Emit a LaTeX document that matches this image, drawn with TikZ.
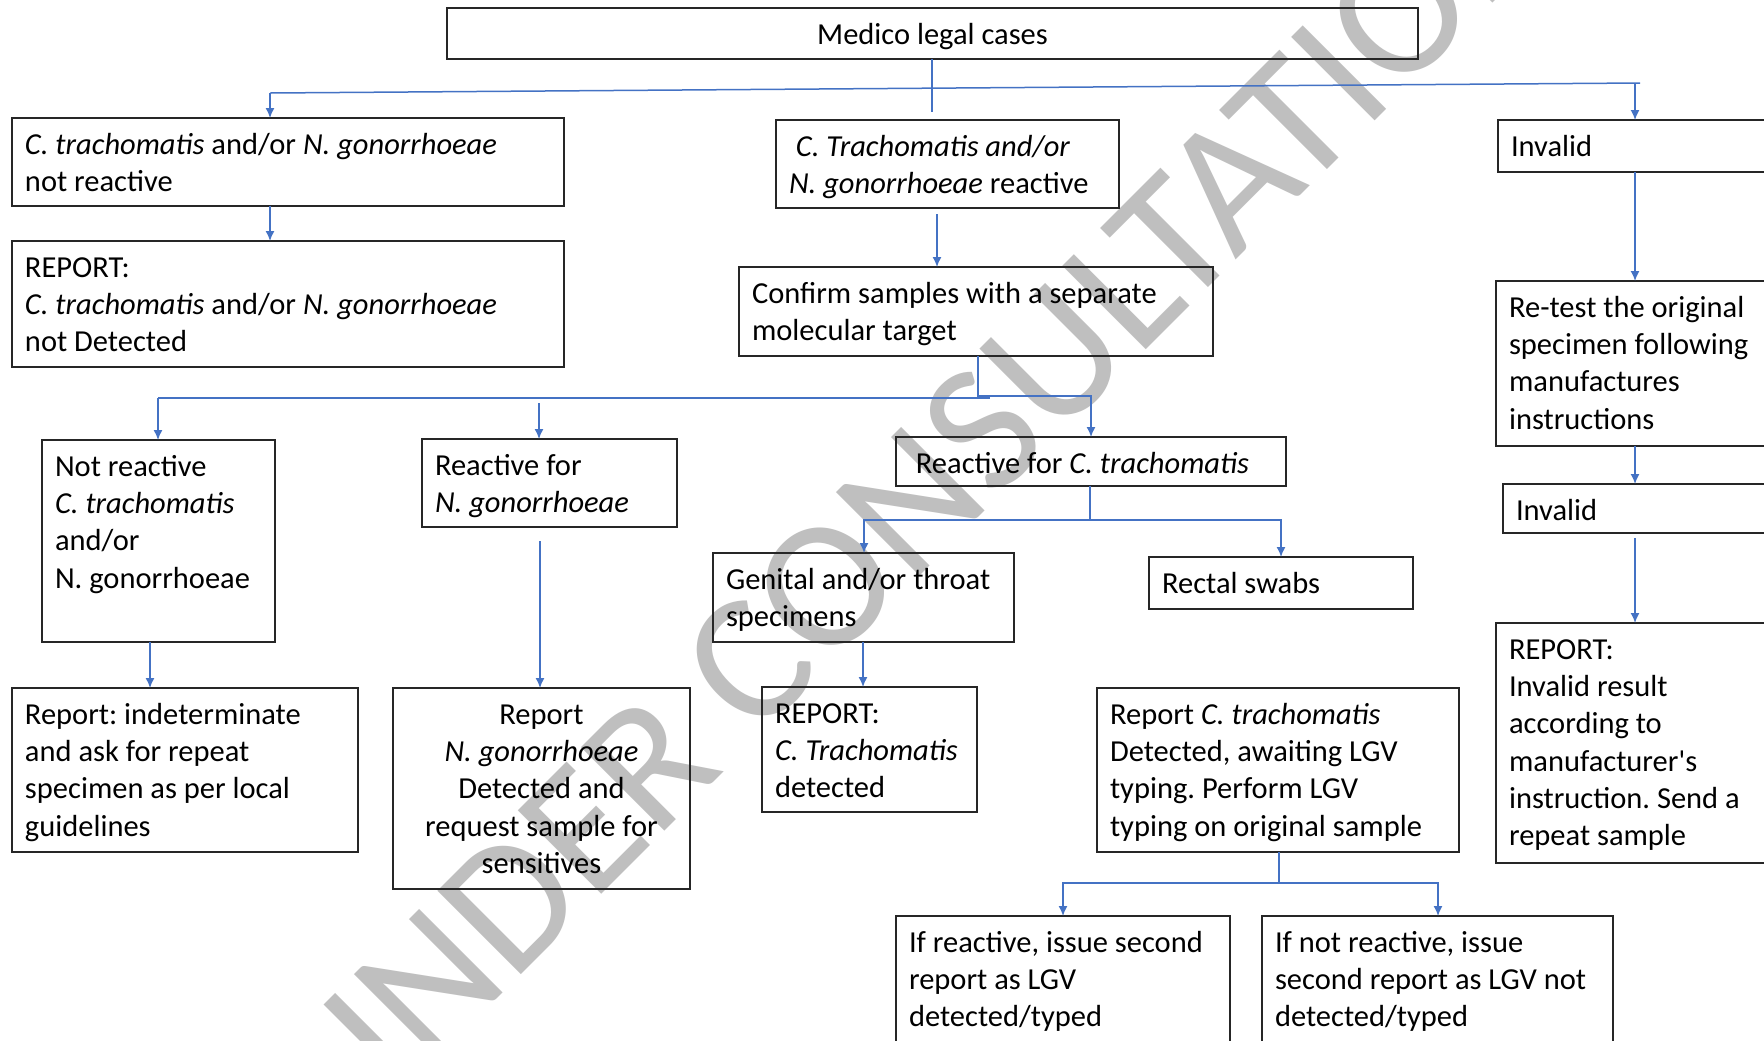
\documentclass[tikz,border=0pt]{standalone}
\usepackage{fontspec}
\setmainfont{Carlito}
\usetikzlibrary{arrows.meta}
\definecolor{connblue}{HTML}{4472C4}
\definecolor{wmgray}{HTML}{BFBFBF}
\frenchspacing
\newcommand{\bxt}[3]{\parbox[c][\dimexpr #2pt/2\relax][t]{\dimexpr #1pt/2-13pt\relax}{\raggedright\rule{0pt}{18.2pt}#3}}
\newcommand{\bxc}[3]{\parbox[c][\dimexpr #2pt/2\relax][t]{\dimexpr #1pt/2-13pt\relax}{\centering\rule{0pt}{18.2pt}#3}}
\begin{document}
\begin{tikzpicture}[x=0.5pt,y=-0.5pt,
  bx/.style={draw=black!85, line width=0.75pt, anchor=north west, inner xsep=6.5pt, inner ysep=0pt, outer sep=0pt,
             font=\fontsize{15.25pt}{18.6pt}\selectfont},
  cline/.style={draw=connblue, line width=0.75pt},
  arr/.style={cline, -{Latex[length=5pt,width=4.5pt]}},
  wmark/.style={text=wmgray, rotate=45, anchor=base, inner sep=0pt, font=\fontsize{92pt}{92pt}\selectfont}]
\clip (0,0) rectangle (1764,1040);
\fill[white] (0,0) rectangle (1764,1040);
% watermark
\node[wmark] (wm) at (956,540) {UNDER CONSULTATION};
% boxes
\node[bx] (mlc) at (447,8) {\bxc{971}{51}{Medico legal cases}};
\node[bx] (ctnr) at (12,118) {\bxt{552}{88}{\textit{C. trachomatis} and/or \textit{N. gonorrhoeae}\\not reactive}};
\node[bx] (rep1) at (12,241) {\bxt{552}{126}{REPORT:\\\textit{C. trachomatis} and/or \textit{N. gonorrhoeae}\\not Detected}};
\node[bx] (ctr) at (776,120) {\bxt{343}{88}{\ \textit{C. Trachomatis and/or}\\\textit{N. gonorrhoeae} reactive}};
\node[bx] (conf) at (739,267) {\bxt{474}{89}{Confirm samples with a separate\\molecular target}};
\node[bx] (inv1) at (1498,120) {\bxt{300}{52}{Invalid}};
\node[bx] (retest) at (1496,281) {\bxt{300}{165}{Re-test the original\\specimen following\\manufactures\\instructions}};
\node[bx] (inv2) at (1503,484) {\bxt{300}{49}{Invalid}};
\node[bx] (repinv) at (1496,623) {\bxt{300}{240}{REPORT:\\Invalid result\\according to\\manufacturer\textquotesingle s\\instruction. Send a\\repeat sample}};
\node[bx] (notr) at (42,440) {\bxt{233}{202}{Not reactive\\\textit{C. trachomatis}\\and/or\\N. gonorrhoeae}};
\node[bx] (rng) at (422,439) {\bxt{255}{88}{Reactive for\\\textit{N. gonorrhoeae}}};
\node[bx] (rct) at (896,437) {\bxt{390}{49}{\ Reactive for \textit{C. trachomatis}}};
\node[bx] (gen) at (713,553) {\bxt{301}{89}{Genital and/or throat\\specimens}};
\node[bx] (rect) at (1149,557) {\bxt{264}{52}{Rectal swabs}};
\node[bx] (indet) at (12,688) {\bxt{346}{164}{Report: indeterminate\\and ask for repeat\\specimen as per local\\guidelines}};
\node[bx] (repng) at (393,688) {\bxc{297}{201}{Report\\\textit{N. gonorrhoeae}\\Detected and\\request sample for\\sensitives}};
\node[bx] (repct) at (762,687) {\bxt{215}{125}{REPORT:\\\textit{C. Trachomatis}\\detected}};
\node[bx] (replgv) at (1097,688) {\bxt{362}{164}{Report \textit{C. trachomatis}\\Detected, awaiting LGV\\typing. Perform LGV\\typing on original sample}};
\node[bx] (ifr) at (896,916) {\bxt{334}{150}{If reactive, issue second\\report as LGV\\detected/typed}};
\node[bx] (ifnr) at (1262,916) {\bxt{351}{150}{If not reactive, issue\\second report as LGV not\\detected/typed}};
% coordinates
\coordinate (xL) at (270,0);
\coordinate (xR) at (1635,0);
\coordinate (xM) at (932,0);
\coordinate (mend) at (932,112);
\coordinate (busL) at (270,93);
\coordinate (busR) at (1640,83);
\coordinate (xD) at (937,214);
\coordinate (cb) at (978,398);
\coordinate (cbL) at (158,398);
\coordinate (cbE) at (990,398);
\coordinate (cbM) at (539,403);
\coordinate (cbR0) at (978,396);
\coordinate (cbR) at (1091,396);
\coordinate (xF) at (150,0);
\coordinate (xG) at (540,541);
\coordinate (hb) at (1090,520);
\coordinate (hbL) at (864,520);
\coordinate (hbR) at (1281,520);
\coordinate (xI) at (863,0);
\coordinate (xL2) at (1635,538);
\coordinate (mb) at (1279,883);
\coordinate (mbL) at (1063,883);
\coordinate (mbR) at (1438,883);
% connectors
\draw[cline] (mlc.south -| xM) -- (mend);
\draw[cline] (busL) -- (busR);
\draw[arr] (busL) -- (ctnr.north -| busL);
\draw[arr] (busR -| xR) -- (inv1.north -| xR);
\draw[arr] (ctnr.south -| xL) -- (rep1.north -| xL);
\draw[arr] (xD) -- (conf.north -| xD);
\draw[cline] (conf.south -| cb) -- (cb);
\draw[cline] (cbL) -- (cbE);
\draw[arr] (cbL) -- (notr.north -| cbL);
\draw[arr] (cbM) -- (rng.north -| cbM);
\draw[arr] (cbR0) -- (cbR) -- (rct.north -| cbR);
\draw[arr] (notr.south -| xF) -- (indet.north -| xF);
\draw[arr] (xG) -- (repng.north -| xG);
\draw[cline] (rct.south -| hb) -- (hb);
\draw[arr] (hb) -- (hbL) -- (gen.north -| hbL);
\draw[arr] (hb) -- (hbR) -- (rect.north -| hbR);
\draw[arr] (gen.south -| xI) -- (repct.north -| xI);
\draw[arr] (inv1.south -| xR) -- (retest.north -| xR);
\draw[arr] (retest.south -| xR) -- (inv2.north -| xR);
\draw[arr] (xL2) -- (repinv.north -| xL2);
\draw[cline] (replgv.south -| mb) -- (mb);
\draw[arr] (mb) -- (mbL) -- (ifr.north -| mbL);
\draw[arr] (mb) -- (mbR) -- (ifnr.north -| mbR);
\end{tikzpicture}
\end{document}
